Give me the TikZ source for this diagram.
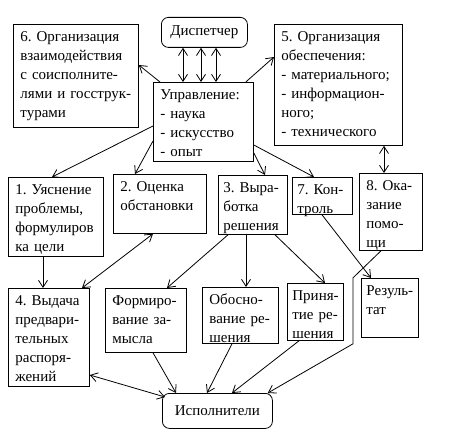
\documentclass[tikz,border=0pt]{standalone}
\usepackage{fontspec}
\setmainfont{Liberation Serif}
\usetikzlibrary{arrows.meta, positioning, calc}

\tikzset{
  blk/.style={draw, anchor=north west, align=left, inner xsep=7pt, inner ysep=3pt,
    text height=14pt, font=\fontsize{15}{19}\selectfont\frenchspacing,
    execute at begin node={\exhyphenpenalty=10000\hyphenpenalty=10000}},
  rnd/.style={draw, rounded corners=7pt, anchor=north west, inner sep=0pt,
    font=\fontsize{15}{19}\selectfont},
}

\begin{document}
\begin{tikzpicture}[x=1pt, y=-1pt, line width=0.8pt, >={Straight Barb[length=7pt,width=9pt]}]
    \useasboundingbox (0,0) rectangle (452,441);

    % top row
    \node[rnd, minimum width=86, minimum height=30] (disp) at (161,17) {Диспетчер};
    \node[blk, text width=111, text depth=83] (b6) at (13,24)
        {6. Организация\\взаимодействия\\с соисполните-\\лями и госструк-\\турами};
    \node[blk, text width=86, text depth=59] (upr) at (153,82)
        {Управление:\\- наука\\- искусство\\- опыт};
    \node[blk, text width=114, text depth=101] (b5) at (274,24)
        {5. Организация\\обеспечения:\\- материального;\\- информацион-\\ного;\\- технического};

    % middle row
    \node[blk, text width=81, text depth=59] (b1) at (8,177)
        {1. Уяснение\\проблемы,\\формулиров\\ка цели};
    \node[blk, text width=79, text depth=39] (b2) at (113,174) {2. Оценка\\обстановки};
    \node[blk, inner xsep=5pt, text width=59, text depth=39] (b3) at (218,175)
        {3. Выра-\\ботка\\решения};
    \node[blk, inner xsep=5pt, text width=50, text depth=17] (b7) at (292,177) {7. Кон-\\троль};
    \node[blk, text width=49, text depth=57] (b8) at (359,173) {8. Ока-\\зание\\помо-\\щи};

    % bottom row
    \node[blk, text width=67, text depth=78] (b4) at (8,288)
        {4. Выдача\\предвари-\\тельных\\распоря-\\жений};
    \node[blk, text width=67, text depth=44] (form) at (105,288) {Формиро-\\вание за-\\мысла};
    \node[blk, text width=62, text depth=36] (obos) at (202,287) {Обосно-\\вание ре-\\шения};
    \node[blk, inner xsep=5pt, text width=46, text depth=37] (prin) at (287,283)
        {Приня-\\тие ре-\\шения};
    \node[blk, inner xsep=5pt, text width=47, text depth=39] (res) at (361,278) {Резуль-\\тат};
    \node[rnd, minimum width=110, minimum height=35] (isp) at (162,393) {Исполнители};

    \foreach \dx in {22,40,55}
        \draw[<->] ([xshift=\dx]disp.south west) -- ([xshift=\dx]disp.south west |- upr.north);

    \path[->]
    ([xshift=7]upr.north west) edge ([yshift=-41]b6.north east)
    ([xshift=-8]upr.north east) edge ([yshift=-33]b5.north west)
    ([yshift=-44]upr.north west) edge ([xshift=44]b1.north west)
    ([yshift=-59]upr.north west) edge ([xshift=22]b2.north west)
    ([yshift=-71]upr.north east) edge ([xshift=47]b3.north west)
    ([yshift=-63]upr.north east) edge ([xshift=22]b7.north west)
    ([xshift=35]b1.south west) edge ([xshift=35]b1.south west |- b4.north)
    ([xshift=10]b3.south west) edge ([xshift=62]form.north west)
    ([xshift=28]b3.south west) edge ([xshift=28]b3.south west |- obos.north)
    ([xshift=57]b3.south west) edge ([xshift=38]prin.north west)
    ([xshift=30]b7.south west) edge ([xshift=10]res.north west)
    ([xshift=48]form.south west) edge ([xshift=14]isp.north west)
    ([xshift=30]obos.south west) edge ([xshift=45]isp.north west)
    ([xshift=12]prin.south west) edge ([xshift=70]isp.north west)
    ;

    \path[<->]
    ([xshift=25]b8.north west |- b5.south) edge ([xshift=25]b8.north west)
    ([xshift=40]b2.south west) edge ([xshift=74]b4.north west)
    ([yshift=-87]b4.north east) edge ([xshift=3,yshift=-4]isp.north west)
    ;

    \draw[->] ([xshift=22]b8.south west) -- ++(-28,27) -- ++(0,66) -- ([xshift=-5]isp.north east);
\end{tikzpicture}
\end{document}
